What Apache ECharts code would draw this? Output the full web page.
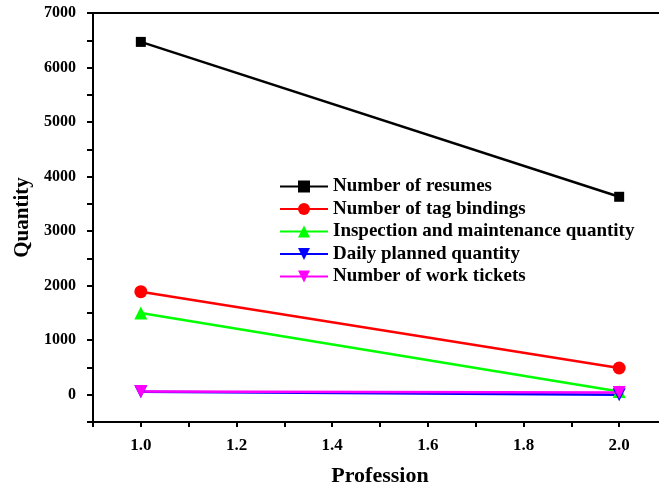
<!DOCTYPE html>
<html>
<head>
<meta charset="utf-8">
<script src="https://cdn.jsdelivr.net/npm/echarts@6/dist/echarts.min.js"></script>
<style>
  html, body { margin: 0; padding: 0; background: #fff; }
  #chart { width: 659px; height: 488px; }
</style>
</head>
<body>
<div id="chart"></div>
<script>
// data
var professions = [1.0, 2.0];
var resumes = [6470, 3630];
var tagBindings = [1890, 490];
var inspection = [1500, 60];
var dailyPlanned = [55, 0];
var workTickets = [60, 40];

var seriesNames = ['Number of resumes', 'Number of tag bindings', 'Inspection and maintenance quantity',
    'Daily planned quantity', 'Number of work tickets'];

var FONT = '"Times New Roman", "Liberation Serif", serif';
var downTri = 'path://M0,0 L10,0 L5,10 Z';

function pairs(ys) {
    var out = [];
    for (var i = 0; i < professions.length; i++) {
        out.push([professions[i], ys[i]]);
    }
    return out;
}

function lineSeries(name, ys, color, symbol, size) {
    return {
        name: name,
        type: 'line',
        data: pairs(ys),
        symbol: symbol,
        symbolSize: size,
        lineStyle: { color: color, width: 2.5 },
        itemStyle: { color: color },
        emphasis: { disabled: true }
    };
}

var chart = echarts.init(document.getElementById('chart'));
chart.setOption({
    animation: false,
    backgroundColor: '#fff',
    grid: {
        left: 93, right: -8, top: 13, bottom: 66,
        outerBoundsMode: 'none',
        containLabel: false,
        show: true, borderColor: '#000', borderWidth: 2
    },
    legend: {
        orient: 'vertical',
        left: 279, top: 177, padding: 0,
        itemWidth: 48, itemHeight: 15, itemGap: 3.5,
        data: seriesNames,
        textStyle: { fontFamily: FONT, fontWeight: 'bold', fontSize: 19, color: '#000' }
    },
    xAxis: {
        type: 'value',
        min: 0.9, max: 2.1, interval: 0.1,
        name: 'Profession',
        nameLocation: 'middle',
        nameGap: 43,
        nameTextStyle: { fontFamily: FONT, fontWeight: 'bold', fontSize: 22, color: '#000' },
        axisLine: { onZero: false, lineStyle: { color: '#000', width: 2 } },
        axisTick: { inside: false, length: 5, lineStyle: { color: '#000', width: 2 } },
        splitLine: { show: false },
        axisLabel: {
            margin: 15,
            fontFamily: FONT, fontWeight: 'bold', fontSize: 17, color: '#000',
            formatter: function (v) {
                var t = Math.round(v * 10);
                return t % 2 === 0 ? (t / 10).toFixed(1) : '';
            }
        }
    },
    yAxis: {
        type: 'value',
        min: -500, max: 7000, interval: 500,
        name: 'Quantity',
        nameLocation: 'middle',
        nameGap: 59,
        nameTextStyle: { fontFamily: FONT, fontWeight: 'bold', fontSize: 21, color: '#000' },
        axisLine: { lineStyle: { color: '#000', width: 2 } },
        axisTick: { inside: false, length: 6, lineStyle: { color: '#000', width: 2 } },
        splitLine: { show: false },
        axisLabel: {
            margin: 17,
            fontFamily: FONT, fontWeight: 'bold', fontSize: 16, color: '#000',
            formatter: function (v) {
                return v % 1000 === 0 ? String(v) : '';
            }
        }
    },
    series: [
        lineSeries(seriesNames[0], resumes, '#000000', 'rect', 10),
        lineSeries(seriesNames[1], tagBindings, '#ff0000', 'circle', 13),
        lineSeries(seriesNames[2], inspection, '#00ff00', 'triangle', 13),
        lineSeries(seriesNames[3], dailyPlanned, '#0000ff', downTri, 13),
        lineSeries(seriesNames[4], workTickets, '#ff00ff', downTri, 13)
    ]
});
window.addEventListener('resize', chart.resize);
</script>
</body>
</html>
